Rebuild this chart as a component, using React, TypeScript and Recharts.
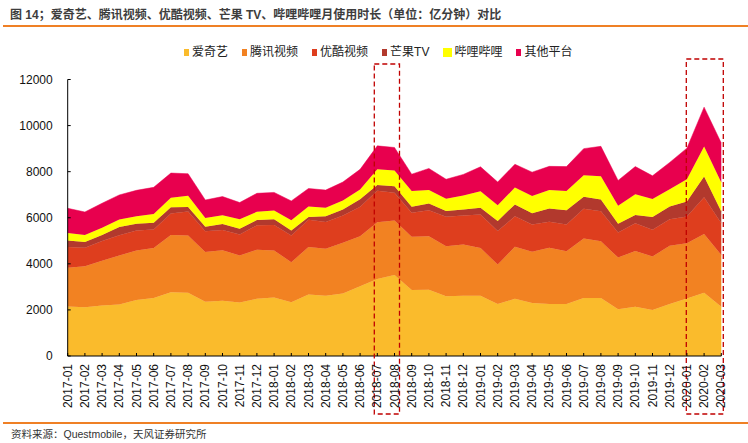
import React from 'react';
import { AreaChart, Area, XAxis, YAxis, ReferenceArea } from 'recharts';

const months = [
  '2017-01','2017-02','2017-03','2017-04','2017-05','2017-06','2017-07','2017-08','2017-09','2017-10','2017-11','2017-12',
  '2018-01','2018-02','2018-03','2018-04','2018-05','2018-06','2018-07','2018-08','2018-09','2018-10','2018-11','2018-12',
  '2019-01','2019-02','2019-03','2019-04','2019-05','2019-06','2019-07','2019-08','2019-09','2019-10','2019-11','2019-12',
  '2020-01','2020-02','2020-03',
];

const iqiyi = [2150,2120,2190,2230,2430,2520,2770,2750,2350,2400,2320,2480,2540,2330,2670,2620,2710,3030,3340,3510,2860,2880,2590,2620,2620,2260,2480,2300,2260,2260,2520,2520,2030,2140,2000,2260,2500,2750,2140];
const tencent = [1680,1780,1940,2130,2150,2170,2480,2480,2160,2190,2040,2130,2040,1740,2060,2030,2200,2170,2460,2370,2320,2320,2170,2220,2070,1710,2260,2220,2440,2290,2580,2460,2240,2420,2320,2520,2390,2550,2240];
const youku = [900,800,860,880,870,800,930,1040,900,880,910,1060,1100,1160,1180,1170,1190,1280,1370,1210,1040,1130,1280,1260,1450,1450,1330,1190,1130,1160,1290,1300,1090,1200,1160,1160,1160,1590,1380];
const mango = [280,250,260,360,290,290,280,200,200,260,250,230,250,220,120,250,260,320,250,280,260,290,250,260,290,440,510,480,570,620,520,510,380,360,550,550,650,900,510];
const bilibili = [330,300,320,320,330,380,410,480,380,380,410,360,390,440,460,360,390,430,690,680,680,580,540,610,720,680,730,750,800,830,930,1010,780,900,780,750,970,1300,1260];
const others = [1070,1000,1060,1070,1120,1160,1070,960,780,810,730,800,780,840,780,770,800,870,1010,1000,730,940,840,910,1060,1010,1010,1040,1030,1060,1160,1300,1100,1200,1010,1160,1350,1710,1710];

const seriesNames = ['爱奇艺', '腾讯视频', '优酷视频', '芒果TV', '哔哩哔哩', '其他平台'];
const seriesValues = [iqiyi, tencent, youku, mango, bilibili, others];
const colors = ['#FABB2C', '#F28222', '#DE3E1E', '#B2392D', '#FFFF00', '#E8004E'];
const yTicks = [0, 2000, 4000, 6000, 8000, 10000, 12000];

const titleText = '图 14；爱奇艺、腾讯视频、优酷视频、芒果 TV、哔哩哔哩月使用时长（单位：亿分钟）对比';
const sourceText = '资料来源：Questmobile，天风证券研究所';

const data = months.map((m, i) => {
  const row: Record<string, any> = { month: m };
  seriesValues.forEach((arr, k) => {
    row['s' + k] = arr[i];
  });
  return row;
});

const FONT = '"Liberation Sans", Arial, "Noto Sans CJK SC", sans-serif';

const XTick = (props: any) => {
  const { x, y, payload } = props;
  return (
    <g>
      <line x1={x} x2={x} y1={y} y2={y - 3} stroke="#000" strokeWidth={1} />
      <text
        x={x}
        y={y + 8}
        transform={`rotate(-90 ${x} ${y + 8})`}
        textAnchor="end"
        dominantBaseline="central"
        fontSize={12}
        fontFamily={FONT}
        fill="#111"
      >
        {payload.value}
      </text>
    </g>
  );
};

const YTick = (props: any) => {
  const { x, y, payload } = props;
  return (
    <g>
      <line x1={x} x2={x + 3} y1={y} y2={y} stroke="#000" strokeWidth={1} />
      <text
        x={x - 15}
        y={y}
        textAnchor="end"
        dominantBaseline="central"
        fontSize={12}
        fontFamily={FONT}
        fill="#111"
      >
        {payload.value}
      </text>
    </g>
  );
};

const makeBox = (dx0: number, dx1: number, dyTop: number, dyBottom: number) => (props: any) => {
  const { x, y, width, height } = props;
  return (
    <rect
      x={x + dx0}
      y={y - dyTop}
      width={width - dx0 + dx1}
      height={height + dyTop + dyBottom}
      fill="none"
      stroke="#C00000"
      strokeWidth={1.3}
      strokeDasharray="5 3"
    />
  );
};

export default function App() {
  return (
    <div
      style={{
        position: 'absolute',
        left: 0,
        top: 0,
        width: 748,
        height: 443,
        background: '#fff',
        overflow: 'hidden',
        fontFamily: FONT,
      }}
    >
      <div style={{ position: 'absolute', left: 0, top: 0 }}>
        <AreaChart
          width={748}
          height={443}
          data={data}
          margin={{ top: 79.5, right: 26.7, bottom: 27, left: 0 }}
        >
          <XAxis
            dataKey="month"
            interval={0}
            tickSize={0}
            tickMargin={0}
            tickLine={false}
            axisLine={{ stroke: '#000', strokeWidth: 1 }}
            height={60}
            tick={<XTick />}
          />
          <YAxis
            domain={[0, 12000]}
            ticks={yTicks}
            interval={0}
            tickSize={0}
            tickMargin={0}
            tickLine={false}
            axisLine={{ stroke: '#000', strokeWidth: 1 }}
            width={67.7}
            tick={<YTick />}
          />
          {seriesNames.map((name, k) => (
            <Area
              key={name}
              type="linear"
              dataKey={'s' + k}
              name={name}
              stackId="1"
              stroke={colors[k]}
              strokeWidth={0.5}
              fill={colors[k]}
              fillOpacity={1}
              dot={false}
              activeDot={false}
              isAnimationActive={false}
            />
          ))}
          <ReferenceArea
            x1="2018-07"
            x2="2018-08"
            zIndex={1000}
            shape={makeBox(-3, 5, 15.5, 58)}
          />
          <ReferenceArea
            x1="2020-01"
            x2="2020-03"
            zIndex={1000}
            shape={makeBox(-0.6, 2, 20.5, 58)}
          />
        </AreaChart>
      </div>

      <div
        style={{
          position: 'absolute',
          left: 10,
          top: 6,
          fontSize: 12,
          lineHeight: '18px',
          fontWeight: 'bold',
          color: '#3d3d3d',
          whiteSpace: 'nowrap',
        }}
      >
        {titleText}
      </div>
      <div style={{ position: 'absolute', left: 3, top: 25, width: 745, height: 2, background: '#EF8025' }} />

      <div
        style={{
          position: 'absolute',
          left: 184,
          top: 44,
          display: 'flex',
          alignItems: 'center',
          whiteSpace: 'nowrap',
          fontSize: 12,
          lineHeight: '16px',
          color: '#222',
        }}
      >
        {seriesNames.map((name, k) => {
          const big = k === 4;
          return (
            <div key={name} style={{ display: 'flex', alignItems: 'center', marginRight: 14 }}>
              <div
                style={{
                  width: big ? 9 : 5,
                  height: big ? 9 : 7,
                  background: colors[k],
                  marginRight: big ? 2 : 3,
                }}
              />
              <span>{name}</span>
            </div>
          );
        })}
      </div>

      <div style={{ position: 'absolute', left: 3, top: 421.5, width: 745, height: 2, background: '#EF8025' }} />
      <div
        style={{
          position: 'absolute',
          left: 11,
          top: 427,
          fontSize: 10.5,
          lineHeight: '14px',
          color: '#333',
          whiteSpace: 'nowrap',
        }}
      >
        {sourceText}
      </div>
    </div>
  );
}
